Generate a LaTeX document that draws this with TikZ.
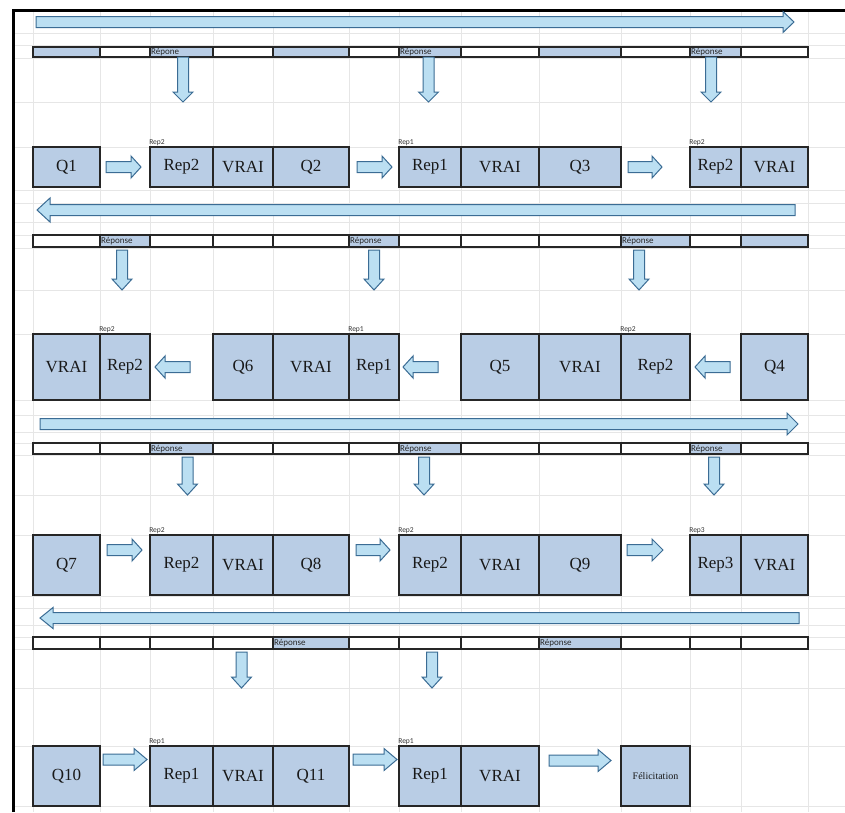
\documentclass[tikz,border=0pt]{standalone}
\usepackage{fontspec}
\setmainfont{Liberation Serif}
\newfontfamily\smallsans{Carlito}
\definecolor{boxblue}{HTML}{B9CDE5}
\definecolor{arrfill}{HTML}{BBDFF2}
\definecolor{arrdraw}{HTML}{3B6C94}
\definecolor{gridc}{HTML}{E6E6E6}
\tikzset{
  cellbox/.style={draw=black!85, line width=1.8pt, fill=boxblue, inner sep=0pt, font=\fontsize{17}{17}\selectfont, text=black!90},
  stripcell/.style={draw=black!85, line width=1.4pt},
  blockarrow/.style={fill=arrfill, draw=arrdraw, line width=1pt, line join=miter},
  gridline/.style={draw=gridc, line width=0.7pt},
  tag/.style={font=\smallsans\fontsize{7.5}{7.5}\selectfont, inner sep=0pt, anchor=south west, text=black!80},
  reptext/.style={font=\smallsans\fontsize{9}{9}\selectfont, inner sep=1pt, anchor=west, text=black!85},
}
% box: name, x1, x2, y1, y2, text
\newcommand\qbox[6]{\node[cellbox, minimum width={#3-#2}, minimum height={#5-#4}] (#1) at ({(#2+#3)/2},{(#4+#5)/2}) {#6};}
% horizontal block arrow: xtail, xbase, xtip, yc, shaft half, head half
\newcommand\harr[6]{\draw[blockarrow] (#1,#4-#5) -- (#2,#4-#5) -- (#2,#4-#6) -- (#3,#4) -- (#2,#4+#6) -- (#2,#4+#5) -- (#1,#4+#5) -- cycle;}
% vertical block arrow: ytail, ybase, ytip, xc, shaft half, head half
\newcommand\varr[6]{\draw[blockarrow] (#4-#5,#1) -- (#4-#5,#2) -- (#4-#6,#2) -- (#4,#3) -- (#4+#6,#2) -- (#4+#5,#2) -- (#4+#5,#1) -- cycle;}
\begin{document}
\begin{tikzpicture}[x=1pt,y=-1pt]
\useasboundingbox (0,0) rectangle (845,812);
\fill[white] (0,0) rectangle (845,812);
% spreadsheet grid
\foreach \x in {33,100,150,213,273,349,399,461,539,621,690,741,808}
  \draw[gridline] (\x,10) -- (\x,812);
\foreach \y in {33,45,58,102,147,190,203,222,235,248,290,334,400,415,432,443,455,495,535,596,608,625,637,649,688,746,806}
  \draw[gridline] (13,\y) -- (845,\y);
% window border
\draw[line width=3pt, black] (13,812) -- (13,10) -- (845,10);

% ===== Section 1 =====
\harr{36}{783}{794}{22}{5.5}{10.5}
\foreach \a/\b/\f/\t [count=\i] in {33/100/boxblue/{},100/150/white/{},150/213/boxblue/Répone,213/273/white/{},273/349/boxblue/{},349/399/white/{},399/461/boxblue/Réponse,461/539/white/{},539/621/boxblue/{},621/690/white/{},690/741/boxblue/Réponse,741/808/white/{}}
  {\path[stripcell, fill=\f] (\a,47) rectangle (\b,57); \node[reptext] (sa\i) at (\a,52) {\t};}
\varr{57}{92}{102}{183}{5.5}{10}
\varr{57}{92}{102}{428.5}{5.5}{10}
\varr{57}{92}{102}{711}{5.5}{10}
\qbox{q1}{33}{100}{147}{187}{Q1}
\qbox{r1a}{150}{213}{147}{187}{Rep2}
\qbox{v1a}{213}{273}{147}{187}{VRAI}
\qbox{q2}{273}{349}{147}{187}{Q2}
\qbox{r1b}{399}{461}{147}{187}{Rep1}
\qbox{v1b}{461}{539}{147}{187}{VRAI}
\qbox{q3}{539}{621}{147}{187}{Q3}
\qbox{r1c}{690}{741}{147}{187}{Rep2}
\qbox{v1c}{741}{808}{147}{187}{VRAI}
\node[tag] (t1a) at (r1a.north west) {Rep2};
\node[tag] (t1b) at (r1b.north west) {Rep1};
\node[tag] (t1c) at (r1c.north west) {Rep2};
\harr{106}{131}{141}{167}{5.5}{11}
\harr{357}{382}{392}{167}{5.5}{11}
\harr{628}{652}{662}{167}{5.5}{11}

% ===== Section 2 =====
\harr{795}{50}{37}{210}{5.5}{12}
\foreach \a/\b/\f/\t [count=\i] in {33/100/white/{},100/150/boxblue/Réponse,150/213/white/{},213/273/white/{},273/349/white/{},349/399/boxblue/Réponse,399/461/white/{},461/539/white/{},539/621/white/{},621/690/boxblue/Réponse,690/741/white/{},741/808/boxblue/{}}
  {\path[stripcell, fill=\f] (\a,235) rectangle (\b,247); \node[reptext] (sb\i) at (\a,241) {\t};}
\varr{250}{279}{290}{122}{5.5}{10}
\varr{250}{279}{290}{374}{5.5}{10}
\varr{250}{279}{290}{639}{5.5}{10}
\qbox{v2a}{33}{100}{334}{400}{VRAI}
\qbox{r2a}{100}{150}{334}{400}{Rep2}
\qbox{q6}{213}{273}{334}{400}{Q6}
\qbox{v2b}{273}{349}{334}{400}{VRAI}
\qbox{r2b}{349}{399}{334}{400}{Rep1}
\qbox{q5}{461}{539}{334}{400}{Q5}
\qbox{v2c}{539}{621}{334}{400}{VRAI}
\qbox{r2c}{621}{690}{334}{400}{Rep2}
\qbox{q4}{741}{808}{334}{400}{Q4}
\node[tag] (t2a) at (r2a.north west) {Rep2};
\node[tag] (t2b) at (r2b.north west) {Rep1};
\node[tag] (t2c) at (r2c.north west) {Rep2};
\harr{190}{165}{155}{367}{5.5}{11}
\harr{438}{413}{403}{367}{5.5}{11}
\harr{730}{705}{695}{367}{5.5}{11}

% ===== Section 3 =====
\harr{40}{787}{798}{424}{5.5}{11}
\foreach \a/\b/\f/\t [count=\i] in {33/100/white/{},100/150/white/{},150/213/boxblue/Réponse,213/273/white/{},273/349/white/{},349/399/white/{},399/461/boxblue/Réponse,461/539/white/{},539/621/white/{},621/690/white/{},690/741/boxblue/Réponse,741/808/white/{}}
  {\path[stripcell, fill=\f] (\a,443) rectangle (\b,454); \node[reptext] (sc\i) at (\a,449) {\t};}
\varr{457}{484}{495}{187.5}{5.5}{10}
\varr{457}{484}{495}{424}{5.5}{10}
\varr{457}{484}{495}{714}{5.5}{10}
\qbox{q7}{33}{100}{535}{595}{Q7}
\qbox{r3a}{150}{213}{535}{595}{Rep2}
\qbox{v3a}{213}{273}{535}{595}{VRAI}
\qbox{q8}{273}{349}{535}{595}{Q8}
\qbox{r3b}{399}{461}{535}{595}{Rep2}
\qbox{v3b}{461}{539}{535}{595}{VRAI}
\qbox{q9}{539}{621}{535}{595}{Q9}
\qbox{r3c}{690}{741}{535}{595}{Rep3}
\qbox{v3c}{741}{808}{535}{595}{VRAI}
\node[tag] (t3a) at (r3a.north west) {Rep2};
\node[tag] (t3b) at (r3b.north west) {Rep2};
\node[tag] (t3c) at (r3c.north west) {Rep3};
\harr{107}{132}{142}{550}{5.5}{11}
\harr{356}{380}{390}{550}{5.5}{11}
\harr{627}{652}{663}{550}{5.5}{11}

% ===== Section 4 =====
\harr{799}{53}{40}{618}{5.5}{10.5}
\foreach \a/\b/\f/\t [count=\i] in {33/100/white/{},100/150/white/{},150/213/white/{},213/273/white/{},273/349/boxblue/Réponse,349/399/white/{},399/461/white/{},461/539/white/{},539/621/boxblue/Réponse,621/690/white/{},690/741/white/{},741/808/white/{}}
  {\path[stripcell, fill=\f] (\a,637) rectangle (\b,649); \node[reptext] (sd\i) at (\a,643) {\t};}
\varr{652}{677}{688}{241.5}{5.5}{10}
\varr{652}{677}{688}{432}{5.5}{10}
\qbox{q10}{33}{100}{746}{806}{Q10}
\qbox{r4a}{150}{213}{746}{806}{Rep1}
\qbox{v4a}{213}{273}{746}{806}{VRAI}
\qbox{q11}{273}{349}{746}{806}{Q11}
\qbox{r4b}{399}{461}{746}{806}{Rep1}
\qbox{v4b}{461}{539}{746}{806}{VRAI}
\node[cellbox, font=\fontsize{10}{10}\selectfont, minimum width=69, minimum height=60] (fel) at (655.5,776) {Félicitation};
\node[tag] (t4a) at (r4a.north west) {Rep1};
\node[tag] (t4b) at (r4b.north west) {Rep1};
\harr{103}{134}{147}{759.5}{5.5}{11}
\harr{353}{384}{397}{759.5}{5.5}{11}
\harr{549}{598}{611}{760.5}{5.5}{11}
\end{tikzpicture}
\end{document}
